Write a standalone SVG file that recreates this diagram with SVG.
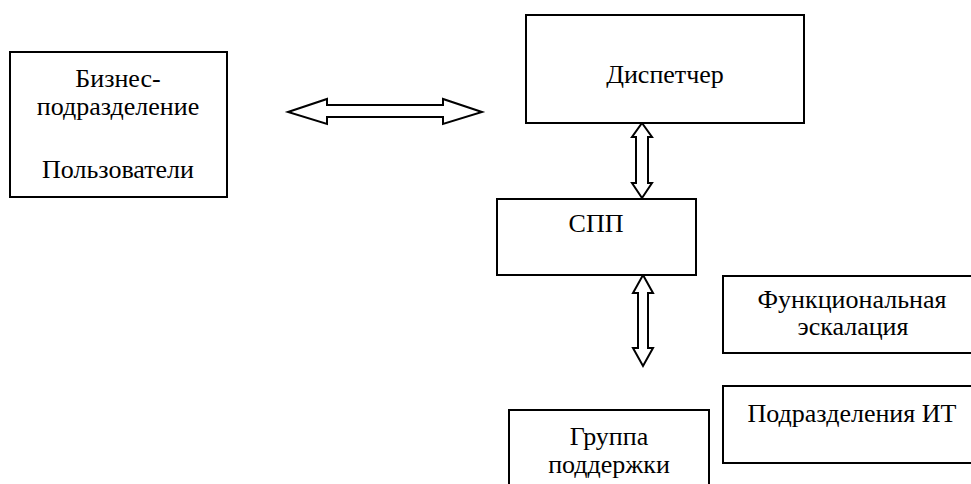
<svg xmlns="http://www.w3.org/2000/svg" width="971" height="484" viewBox="0 0 971 484">
<style>
.box{fill:#fff;stroke:#000;stroke-width:2}
.arr{fill:#fff;stroke:#000;stroke-width:2;stroke-linejoin:miter}
</style>
<rect width="971" height="484" fill="#fff"/>
<g id="connectors">
<polygon class="arr" points="288,112 327,99 327,105 443,105 443,99 482,112 443,124 443,117 327,117 327,124"/>
<polygon class="arr" points="642,123 652,137 648,137 648,183 652,183 642,198 632,183 636,183 636,137 632,137"/>
<polygon class="arr" points="643,275 653,293 648,293 648,348 653,348 643,366 633,348 638,348 638,293 633,293"/>
</g>
<g font-family="Liberation Serif, Times New Roman, serif" font-size="26" text-anchor="middle" fill="#000">
<g id="business">
<rect class="box" x="10" y="52" width="217" height="145"/>
<text x="118" y="87">Бизнес-</text>
<text x="118" y="115">подразделение</text>
<text x="118" y="178">Пользователи</text>
</g>
<g id="dispatcher">
<rect class="box" x="526" y="15" width="278" height="108"/>
<text x="665" y="83">Диспетчер</text>
</g>
<g id="spp">
<rect class="box" x="497" y="199" width="199" height="76"/>
<text x="596" y="232">СПП</text>
</g>
<g id="func">
<rect class="box" x="723" y="276" width="260" height="77"/>
<text x="852" y="308">Функциональная</text>
<text x="853" y="335">эскалация</text>
</g>
<g id="it">
<rect class="box" x="723" y="386" width="260" height="77"/>
<text x="852" y="422">Подразделения ИТ</text>
</g>
<g id="support">
<rect class="box" x="509" y="410" width="200" height="90"/>
<text x="609" y="445">Группа</text>
<text x="609" y="473">поддержки</text>
</g>
</g>
</svg>
